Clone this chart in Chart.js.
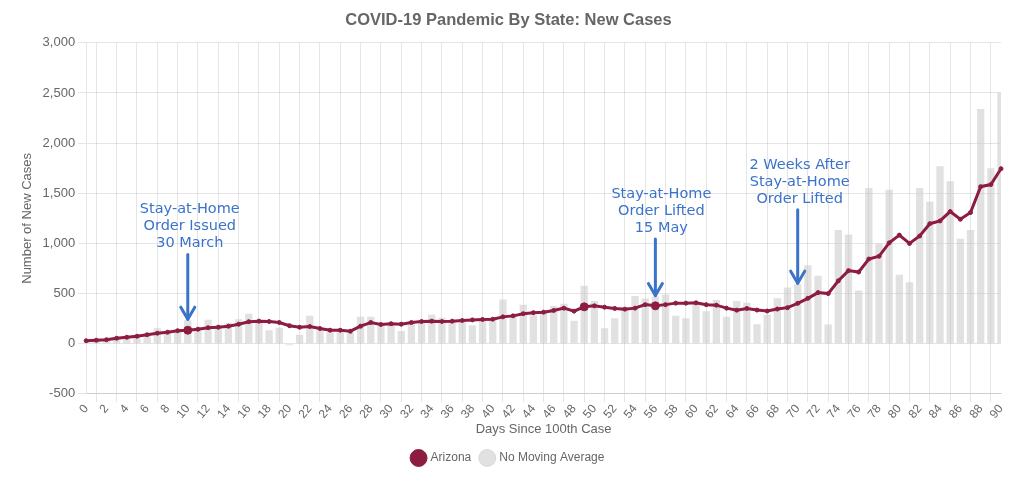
<!DOCTYPE html>
<html>
<head>
<meta charset="utf-8">
<script src="https://cdn.jsdelivr.net/npm/chart.js@4"></script>
<style>
  html, body { margin: 0; padding: 0; background: #fff; }
  #wrap { width: 1024px; height: 486px; position: relative; }
</style>
</head>
<body>
<div id="wrap"><canvas id="c" width="1024" height="486"></canvas></div>
<script>
// ---- data ----
const days = Array.from({length: 91}, (_, i) => String(i));
const arizonaAvg = [
  30, 35, 40, 55, 65, 75, 90, 105, 115, 130,
  135, 145, 160, 165, 175, 195, 220, 225, 222, 212,
  180, 165, 172, 152, 135, 135, 125, 175, 212, 192,
  200, 195, 212, 222, 225, 222, 225, 232, 238, 242,
  245, 268, 278, 300, 310, 315, 332, 355, 325, 368,
  378, 365, 352, 345, 355, 390, 378, 390, 405, 405,
  408, 390, 385, 355, 335, 352, 336, 326, 346, 360,
  403, 453, 510, 500, 628, 729, 715, 845, 872, 1006,
  1083, 1000, 1074, 1197, 1224, 1318, 1241, 1308, 1566, 1587,
  1745
];
const dailyCases = [
  25, 30, 35, 60, 60, 70, 95, 155, 115, 140,
  235, 130, 240, 190, 210, 245, 300, 230, 135, 160,
  -15, 90, 280, 135, 115, 115, 110, 268, 268, 185,
  200, 127, 210, 210, 290, 260, 230, 220, 185, 230,
  240, 442, 285, 390, 285, 320, 377, 400, 230, 577,
  425, 155, 255, 365, 477, 450, 470, 490, 278, 255,
  400, 325, 435, 268, 425, 410, 195, 290, 453, 560,
  594, 782, 678, 191, 1134, 1090, 530, 1553, 1000, 1536,
  688, 614, 1553, 1415, 1770, 1620, 1046, 1134, 2341, 1750,
  2505
];
const highlightDays = [10, 49, 56];
const yTicks = [-500, 0, 500, 1000, 1500, 2000, 2500, 3000];
const annotationDays = [10, 56, 70];
const annotationTexts = [
  ["Stay-at-Home", "Order Issued", "30 March"],
  ["Stay-at-Home", "Order Lifted", "15 May"],
  ["2 Weeks After", "Stay-at-Home", "Order Lifted"]
];
const annotationStartValues = [890, 1045, 1335];

// ---- styles ----
const MAROON = '#8C1D40';
const BAR_GRAY = 'rgba(200,200,200,0.55)';
const ANN_BLUE = '#3B73C9';

const annotationPlugin = {
  id: 'stayAtHomeNotes',
  afterDatasetsDraw(chart) {
    const {ctx, scales: {x, y}} = chart;
    const dxs = [2, 6, 2];
    ctx.save();
    annotationDays.forEach((d, i) => {
      const px = x.getPixelForValue(d);
      const yStart = y.getPixelForValue(annotationStartValues[i]);
      const yTip = y.getPixelForValue(dailyCases[d]);
      ctx.fillStyle = ANN_BLUE;
      ctx.font = '14.5px "DejaVu Sans", sans-serif';
      ctx.textAlign = 'center';
      ctx.textBaseline = 'middle';
      const lines = annotationTexts[i];
      const lh = 17;
      lines.forEach((t, k) => {
        ctx.fillText(t, px + dxs[i], yStart - 11 - (lines.length - 1 - k) * lh);
      });
      ctx.strokeStyle = ANN_BLUE;
      ctx.lineWidth = 3;
      ctx.lineCap = 'round';
      ctx.lineJoin = 'round';
      ctx.beginPath();
      ctx.moveTo(px, yStart);
      ctx.lineTo(px, yTip - 1);
      ctx.stroke();
      ctx.beginPath();
      ctx.moveTo(px - 7, yTip - 13);
      ctx.lineTo(px, yTip - 1);
      ctx.lineTo(px + 7, yTip - 13);
      ctx.stroke();
    });
    ctx.restore();
  }
};

Chart.defaults.font.family = '"Liberation Sans", Arial, sans-serif';
Chart.defaults.color = '#666';

new Chart(document.getElementById('c'), {
  type: 'line',
  data: {
    labels: days,
    datasets: [
      {
        type: 'line',
        label: 'Arizona',
        data: arizonaAvg,
        borderColor: MAROON,
        backgroundColor: MAROON,
        borderWidth: 3,
        pointRadius: days.map((_, i) => highlightDays.includes(i) ? 4 : 2),
        pointBorderWidth: 1,
        pointBackgroundColor: MAROON,
        pointBorderColor: MAROON,
        tension: 0,
        fill: false,
        order: 0
      },
      {
        type: 'bar',
        label: 'No Moving Average',
        data: dailyCases,
        backgroundColor: BAR_GRAY,
        borderColor: BAR_GRAY,
        borderWidth: 0,
        order: 1
      }
    ]
  },
  options: {
    responsive: false,
    animation: false,
    layout: { padding: { left: 16, right: 23, top: 0, bottom: 12 } },
    plugins: {
      title: {
        display: true,
        text: 'COVID-19 Pandemic By State: New Cases',
        font: { size: 16.5, weight: 'bold' },
        color: '#666',
        padding: { top: 11, bottom: 12 }
      },
      legend: {
        position: 'bottom',
        labels: {
          usePointStyle: true,
          font: { size: 12 },
          color: '#666',
          padding: 10,
          generateLabels: (chart) => Chart.defaults.plugins.legend.labels.generateLabels(chart).map(l => Object.assign(l, { lineWidth: 1 }))
        }
      },
      tooltip: { enabled: false }
    },
    scales: {
      x: {
        offset: false,
        title: { display: true, text: 'Days Since 100th Case', font: { size: 13 }, color: '#666', padding: { top: 0, bottom: 5 } },
        ticks: {
          autoSkip: false,
          maxRotation: 50,
          minRotation: 50,
          padding: 0,
          font: { size: 12 },
          callback: function(val, idx) { return idx % 2 === 0 ? this.getLabelForValue(val) : null; }
        },
        grid: { color: 'rgba(0,0,0,0.1)' }
      },
      y: {
        min: -500,
        max: 3000,
        afterBuildTicks: (axis) => { axis.ticks = yTicks.map(v => ({value: v})); },
        title: { display: true, text: 'Number of New Cases', font: { size: 13 }, color: '#666' },
        ticks: { font: { size: 13 }, callback: (v) => v.toLocaleString('en-US') },
        grid: { color: 'rgba(0,0,0,0.1)' }
      }
    }
  },
  plugins: [annotationPlugin]
});
</script>
</body>
</html>
